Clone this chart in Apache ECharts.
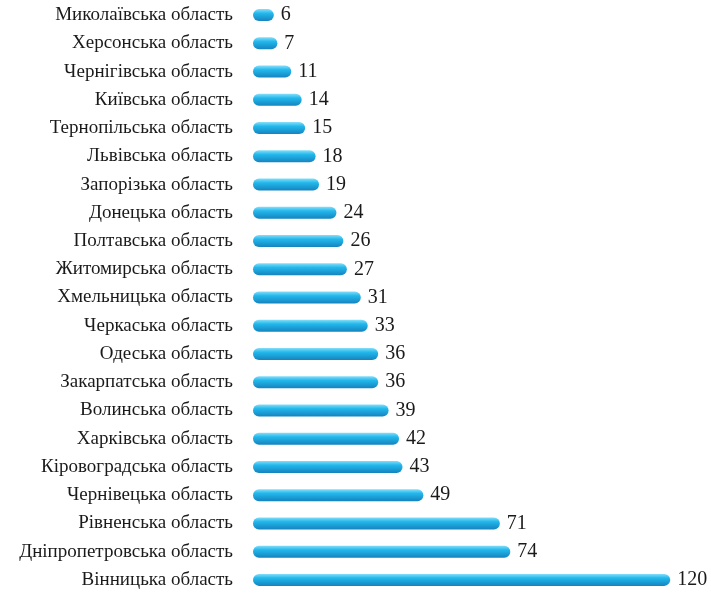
<!DOCTYPE html>
<html>
<head>
<meta charset="utf-8">
<script src="https://cdn.jsdelivr.net/npm/echarts@6/dist/echarts.min.js"></script>
<style>
  html, body { margin: 0; padding: 0; background: #fff; }
  #chart { width: 711px; height: 594px; }
</style>
</head>
<body>
<div id="chart"></div>
<script>
const regions = [
  'Миколаївська область', 'Херсонська область', 'Чернігівська область',
  'Київська область', 'Тернопільська область', 'Львівська область',
  'Запорізька область', 'Донецька область', 'Полтавська область',
  'Житомирська область', 'Хмельницька область', 'Черкаська область',
  'Одеська область', 'Закарпатська область', 'Волинська область',
  'Харківська область', 'Кіровоградська область', 'Чернівецька область',
  'Рівненська область', 'Дніпропетровська область', 'Вінницька область'
]
const counts = [6, 7, 11, 14, 15, 18, 19, 24, 26, 27, 31, 33, 36, 36, 39, 42, 43, 49, 71, 74, 120]

const chart = echarts.init(document.getElementById('chart'))
// циліндричні смуги: градієнт зверху вниз
const barFill = new echarts.graphic.LinearGradient(0, 0, 0, 1, [
  { offset: 0, color: '#86def9' },
  { offset: 0.35, color: '#22b8ec' },
  { offset: 1, color: '#1583be' }
])
const option = {
  animation: false,
  grid: { left: 253, top: 1, width: 452, height: 595 },
  xAxis: {
    type: 'value',
    min: 0,
    max: 130,
    show: false
  },
  yAxis: {
    type: 'category',
    inverse: true,
    data: regions,
    axisLine: { show: false },
    axisTick: { show: false },
    axisLabel: {
      margin: 20,
      fontFamily: 'Liberation Serif',
      fontSize: 19,
      color: '#1a1a1a'
    }
  },
  series: [
    {
      type: 'bar',
      data: counts,
      barWidth: 12,
      itemStyle: { color: barFill, borderRadius: 6 },
      label: {
        show: true,
        position: 'right',
        distance: 7,
        fontFamily: 'Liberation Serif',
        fontSize: 20,
        color: '#1a1a1a'
      }
    }
  ]
}
chart.setOption(option)
</script>
</body>
</html>
